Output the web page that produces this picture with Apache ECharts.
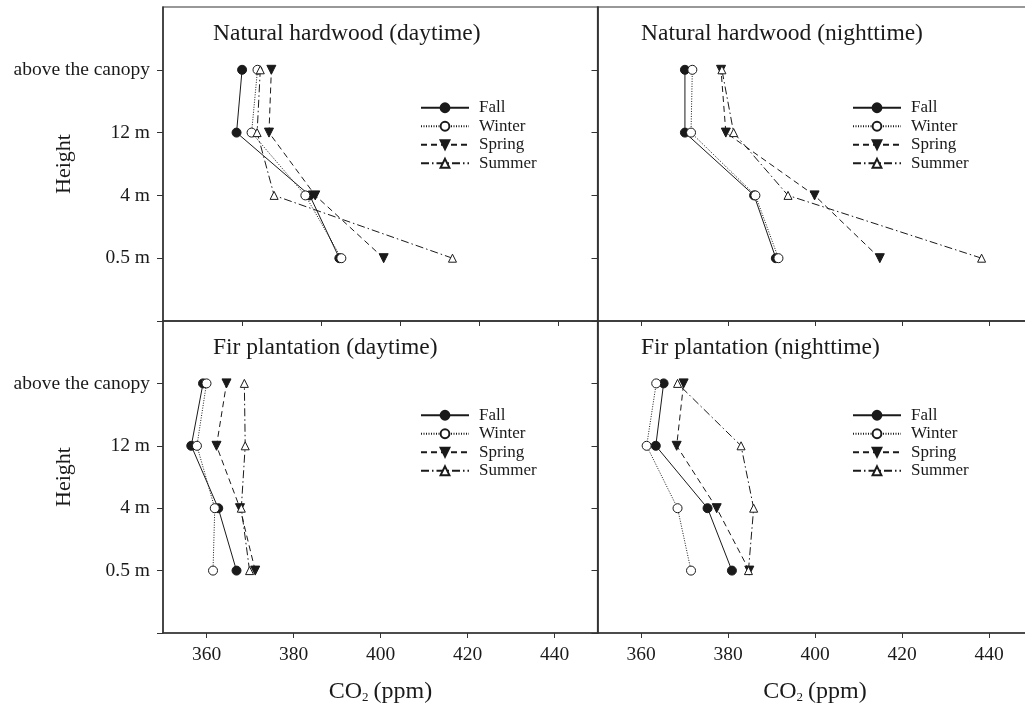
<!DOCTYPE html>
<html>
<head>
<meta charset="utf-8">
<script src="https://cdn.jsdelivr.net/npm/echarts@6/dist/echarts.min.js"></script>
<style>
  html, body { margin: 0; padding: 0; background: #fff; }
  #chart { width: 1025px; height: 706px; }
</style>
</head>
<body>
<div id="chart"></div>
<script>
// alturas (posicion 1..4 de abajo hacia arriba)
const heights = ['0.5 m', '4 m', '12 m', 'above the canopy'];
const seasons = ['Fall', 'Winter', 'Spring', 'Summer'];
const xTicks = [360, 380, 400, 420, 440];

// valores CO2 (ppm) en el orden de heights
const hwDayFall   = [384.6, 377.1, 358.6, 360.0];
const hwDayWinter = [385.1, 376.0, 362.4, 363.9];
const hwDaySpring = [395.8, 378.5, 366.8, 367.4];
const hwDaySummer = [413.2, 368.1, 363.8, 364.6];

const hwNightFall   = [391.0, 386.0, 370.1, 370.1];
const hwNightWinter = [391.6, 386.3, 371.5, 371.8];
const hwNightSpring = [414.9, 399.9, 379.5, 378.4];
const hwNightSummer = [438.3, 393.8, 381.3, 378.6];

const firDayFall   = [366.9, 362.7, 356.5, 359.2];
const firDayWinter = [361.5, 361.9, 357.8, 360.0];
const firDaySpring = [371.2, 367.7, 362.3, 364.6];
const firDaySummer = [369.9, 368.0, 368.9, 368.7];

const firNightFall   = [380.9, 375.3, 363.4, 365.2];
const firNightWinter = [371.5, 368.4, 361.3, 363.5];
const firNightSpring = [384.9, 377.4, 368.2, 369.8];
const firNightSummer = [384.7, 385.9, 383.0, 368.4];

const panelTitles = ['Natural hardwood (daytime)', 'Natural hardwood (nighttime)',
                     'Fir plantation (daytime)', 'Fir plantation (nighttime)'];
const panelData = [
  [hwDayFall, hwDayWinter, hwDaySpring, hwDaySummer],
  [hwNightFall, hwNightWinter, hwNightSpring, hwNightSummer],
  [firDayFall, firDayWinter, firDaySpring, firDaySummer],
  [firNightFall, firNightWinter, firNightSpring, firNightSummer]
];

const FONT = 'Liberation Serif';
const INK = '#1a1a1a';

/* ESTILOS POR ESTACION */
const seasonStyle = {
  Fall:   { symbol: 'circle', size: 9, rotate: 0, fill: INK, line: 'solid' },
  Winter: { symbol: 'circle', size: 9, rotate: 0, fill: '#fff', line: [1, 1.5] },
  Spring: { symbol: 'triangle', size: 9, rotate: 180, fill: INK, line: [6, 4] },
  Summer: { symbol: 'triangle', size: 8, rotate: 0, fill: '#fff', line: [8, 3, 1.5, 3] }
};

// posicion de cada panel
const panels = [
  { left: 163,   top: 7,   height: 314, min: 340, legendLeft: 420, legendTop: 98.5 },
  { left: 597.5, top: 7,   height: 314, min: 350, legendLeft: 852, legendTop: 98.5 },
  { left: 163,   top: 321, height: 312, min: 350, legendLeft: 420, legendTop: 406 },
  { left: 597.5, top: 321, height: 312, min: 350, legendLeft: 852, legendTop: 406 }
];

const grids = [], xAxes = [], yAxes = [], series = [], legends = [], titles = [];

panels.forEach((p, k) => {
  const isBottom = k >= 2;
  const isLeft = k % 2 === 0;
  grids.push({
    left: p.left, top: p.top, width: 435, height: p.height,
    show: true, borderColor: '#333', borderWidth: 1.2,
    containLabel: false, outerBoundsMode: 'none'
  });
  xAxes.push({
    type: 'value', gridIndex: k, min: p.min, max: 450,
    name: isBottom ? '{a|CO}{b|2}{a|(ppm)}' : '',
    nameLocation: 'middle', nameGap: 47, nameMoveOverlap: false,
    nameTextStyle: {
      rich: {
        a: { fontFamily: FONT, fontSize: 24, color: INK },
        b: { fontFamily: FONT, fontSize: 13, color: INK, verticalAlign: 'bottom', padding: [8, 5, 0, 0] }
      }
    },
    axisLine: { show: true, onZero: false, lineStyle: { color: '#333', width: 1.5 } },
    axisTick: { show: true, length: 5, customValues: xTicks, lineStyle: { color: '#333' } },
    axisLabel: {
      show: isBottom, customValues: xTicks, margin: 12,
      fontFamily: FONT, fontSize: 19.5, color: INK
    },
    splitLine: { show: false }
  });
  yAxes.push({
    type: 'value', gridIndex: k, min: 0, max: 5,
    name: isLeft ? 'Height' : '',
    nameLocation: 'middle', nameGap: 88, nameMoveOverlap: false,
    nameTextStyle: { fontFamily: FONT, fontSize: 22, color: INK },
    axisLine: { show: true, onZero: false, lineStyle: { color: '#333', width: 1.5 } },
    axisTick: { show: true, length: 6, customValues: [0, 1, 2, 3, 4], lineStyle: { color: '#333' } },
    axisLabel: {
      show: isLeft, customValues: [1, 2, 3, 4], margin: 13,
      fontFamily: FONT, fontSize: 19.5, color: INK,
      formatter: v => heights[v - 1] || ''
    },
    splitLine: { show: false }
  });
  titles.push({
    text: panelTitles[k],
    left: isLeft ? 213 : 641, top: p.top + 15, padding: 0,
    textStyle: { fontFamily: FONT, fontSize: 23.5, fontWeight: 'normal', color: INK }
  });
  legends.push({
    data: seasons, orient: 'vertical',
    left: p.legendLeft, top: p.legendTop, padding: 0,
    itemWidth: 48, itemHeight: 11, itemGap: 0,
    textStyle: { fontFamily: FONT, fontSize: 17, color: INK, lineHeight: 18.5, padding: [0, 0, 0, 5] }
  });
  panelData[k].forEach((values, s) => {
    const name = seasons[s];
    const st = seasonStyle[name];
    series.push({
      name: name, type: 'line',
      xAxisIndex: k, yAxisIndex: k,
      data: values.map((v, i) => [v, i + 1]),
      symbol: st.symbol, symbolSize: st.size, symbolRotate: st.rotate,
      showAllSymbol: true,
      lineStyle: { color: INK, width: 1, type: st.line },
      itemStyle: { color: st.fill, borderColor: INK, borderWidth: 1 },
      emphasis: { disabled: true }
    });
  });
});

const myChart = echarts.init(document.getElementById('chart'));
myChart.setOption({
  animation: false,
  backgroundColor: '#fff',
  title: titles,
  legend: legends,
  grid: grids,
  xAxis: xAxes,
  yAxis: yAxes,
  series: series
});
</script>
</body>
</html>
